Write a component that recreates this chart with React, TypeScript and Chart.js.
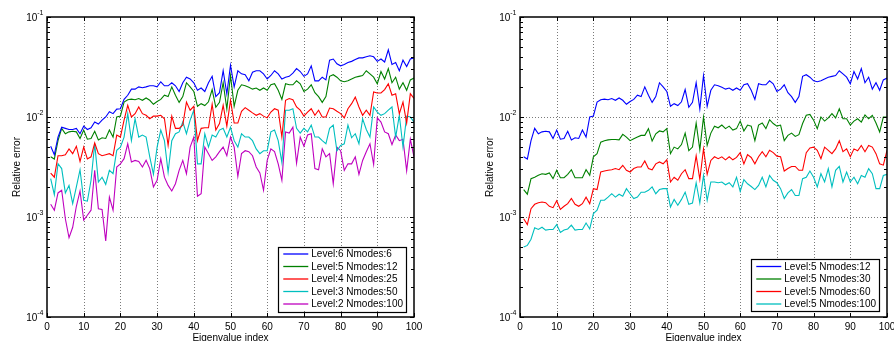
import React, { useEffect, useRef } from "react";
import { Chart, registerables } from "chart.js";

Chart.register(...registerables);

// ---------- data ----------
const X_MIN = 0;
const X_MAX = 100;
const X_TICKS = [0, 10, 20, 30, 40, 50, 60, 70, 80, 90, 100];
const Y_MIN = 1e-4;
const Y_MAX = 1e-1;
const Y_TICKS = [1e-4, 1e-3, 1e-2, 1e-1];
const Y_TICK_EXPONENTS = ["-4", "-3", "-2", "-1"];
const X_TITLE = "Eigenvalue index";
const Y_TITLE = "Relative error";

const LEFT_LABELS = [
  "Level:6 Nmodes:6",
  "Level:5 Nmodes:12",
  "Level:4 Nmodes:25",
  "Level:3 Nmodes:50",
  "Level:2 Nmodes:100",
];
const RIGHT_LABELS = [
  "Level:5 Nmodes:12",
  "Level:5 Nmodes:30",
  "Level:5 Nmodes:60",
  "Level:5 Nmodes:100",
];

const level6n6 = [
  5.1e-3, 4.2e-3, 6.3e-3, 7.9e-3, 7.7e-3, 7.5e-3, 7.5e-3, 7.7e-3, 6.8e-3, 8.1e-3,
  7.5e-3, 7.8e-3, 8.9e-3, 8.5e-3, 9.3e-3, 1.0e-2, 1.13e-2, 1.08e-2, 1.2e-2, 1.21e-2,
  1.5e-2, 1.65e-2, 1.9e-2, 1.9e-2, 2.0e-2, 1.96e-2, 2.0e-2, 2.05e-2, 2.05e-2, 2.0e-2,
  2.25e-2, 2.05e-2, 2.05e-2, 2.2e-2, 2.05e-2, 1.8e-2, 2.2e-2, 2.5e-2, 2.4e-2, 2.2e-2,
  1.85e-2, 1.95e-2, 1.8e-2, 2.2e-2, 2.55e-2, 1.6e-2, 1.75e-2, 2.9e-2, 1.7e-2, 3.3e-2,
  2.0e-2, 2.9e-2, 2.7e-2, 2.65e-2, 2.3e-2, 2.8e-2, 2.9e-2, 2.9e-2, 2.7e-2, 2.4e-2,
  2.6e-2, 2.9e-2, 2.7e-2, 2.4e-2, 2.5e-2, 2.55e-2, 2.75e-2, 3.05e-2, 2.85e-2, 2.55e-2,
  2.7e-2, 3.25e-2, 2.3e-2, 2.3e-2, 2.5e-2, 2.35e-2, 3.7e-2, 3.8e-2, 3.4e-2, 3.25e-2,
  3.35e-2, 3.5e-2, 3.6e-2, 3.75e-2, 3.9e-2, 3.9e-2, 4.0e-2, 4.1e-2, 4.0e-2, 3.6e-2,
  3.8e-2, 3.55e-2, 4.7e-2, 3.35e-2, 3.5e-2, 2.9e-2, 3.7e-2, 3.2e-2, 3.8e-2, 3.9e-2,
];

const level5n12 = [
  4.0e-3, 3.8e-3, 5.8e-3, 7.7e-3, 6.8e-3, 7.1e-3, 7.2e-3, 7.1e-3, 6.1e-3, 7.4e-3,
  6.0e-3, 6.1e-3, 7.2e-3, 5.9e-3, 6.2e-3, 6.1e-3, 7.4e-3, 6.3e-3, 1.0e-2, 1.02e-2,
  1.41e-2, 1.49e-2, 1.51e-2, 1.49e-2, 1.53e-2, 1.47e-2, 1.55e-2, 1.47e-2, 1.34e-2, 1.43e-2,
  1.5e-2, 1.65e-2, 1.6e-2, 2.0e-2, 1.65e-2, 1.4e-2, 1.6e-2, 2.2e-2, 2.0e-2, 1.8e-2,
  1.28e-2, 1.36e-2, 1.3e-2, 1.42e-2, 1.88e-2, 1.25e-2, 1.4e-2, 2.2e-2, 1.2e-2, 2.6e-2,
  1.28e-2, 1.85e-2, 2.1e-2, 2.05e-2, 1.98e-2, 1.9e-2, 1.95e-2, 1.85e-2, 1.95e-2, 1.85e-2,
  2.1e-2, 2.15e-2, 1.85e-2, 1.5e-2, 2.15e-2, 2.1e-2, 2.1e-2, 2.3e-2, 2.15e-2, 1.8e-2,
  1.9e-2, 2.1e-2, 1.75e-2, 1.6e-2, 1.4e-2, 1.6e-2, 2.55e-2, 2.65e-2, 2.5e-2, 2.3e-2,
  2.25e-2, 2.3e-2, 2.4e-2, 2.5e-2, 2.55e-2, 2.6e-2, 2.9e-2, 2.7e-2, 2.5e-2, 2.15e-2,
  2.85e-2, 2.4e-2, 3.05e-2, 2.2e-2, 2.5e-2, 1.9e-2, 2.2e-2, 1.85e-2, 2.35e-2, 2.45e-2,
];

const level4n25 = [
  2.75e-3, 2.5e-3, 4.1e-3, 4.1e-3, 4.2e-3, 4.8e-3, 4.3e-3, 5.1e-3, 3.6e-3, 5.0e-3,
  3.8e-3, 4.0e-3, 5.5e-3, 4.3e-3, 4.1e-3, 4.2e-3, 4.3e-3, 4.1e-3, 6.6e-3, 6.3e-3,
  9.3e-3, 1.31e-2, 1.0e-2, 1.08e-2, 1.26e-2, 1.08e-2, 1.04e-2, 9.6e-3, 1.02e-2, 1.02e-2,
  1.04e-2, 9.6e-3, 5.2e-3, 1.02e-2, 7.7e-3, 7.7e-3, 8.3e-3, 1.41e-2, 1.17e-2, 1.28e-2,
  5.8e-3, 7.7e-3, 7.8e-3, 7.8e-3, 1.34e-2, 7.4e-3, 8.6e-3, 1.31e-2, 8.1e-3, 1.47e-2,
  8.7e-3, 8.7e-3, 1.14e-2, 1.24e-2, 1.17e-2, 1.1e-2, 1.04e-2, 1.08e-2, 1.02e-2, 9.8e-3,
  1.12e-2, 1.21e-2, 1.17e-2, 6.3e-3, 1.47e-2, 1.53e-2, 1.49e-2, 1.26e-2, 1.17e-2, 1.02e-2,
  1.12e-2, 1.21e-2, 1.04e-2, 1.17e-2, 1.0e-2, 1.0e-2, 1.23e-2, 1.21e-2, 1.14e-2, 1.08e-2,
  9.8e-3, 1.21e-2, 1.36e-2, 1.58e-2, 1.26e-2, 1.04e-2, 1.17e-2, 1.04e-2, 1.78e-2, 1.74e-2,
  1.74e-2, 1.88e-2, 2.15e-2, 1.65e-2, 1.71e-2, 1.08e-2, 1.41e-2, 8.7e-3, 1.71e-2, 1.53e-2,
];

const level3n50 = [
  2.42e-3, 1.67e-3, 3.42e-3, 3.05e-3, 1.74e-3, 2.07e-3, 1.36e-3, 2.0e-3, 2.97e-3, 1.47e-3,
  1.44e-3, 2.33e-3, 5.4e-3, 2.24e-3, 2.5e-3, 2.12e-3, 2.93e-3, 2.71e-3, 4.64e-3, 5.0e-3,
  6.3e-3, 1.08e-2, 5.8e-3, 9.6e-3, 6.3e-3, 6.6e-3, 6.3e-3, 4.0e-3, 2.67e-3, 5.0e-3,
  7.4e-3, 5.8e-3, 2.8e-3, 5.8e-3, 6.8e-3, 7.1e-3, 8.9e-3, 6.8e-3, 9.3e-3, 1.17e-2,
  3.4e-3, 3.4e-3, 6.8e-3, 5.0e-3, 6.6e-3, 6.3e-3, 7.4e-3, 7.7e-3, 6.3e-3, 7.9e-3,
  5.8e-3, 5.0e-3, 6.8e-3, 6.3e-3, 6.3e-3, 5.8e-3, 4.8e-3, 4.3e-3, 4.6e-3, 4.6e-3,
  7.1e-3, 7.4e-3, 5.8e-3, 3.5e-3, 1.17e-2, 1.17e-2, 1.21e-2, 7.7e-3, 6.9e-3, 7.7e-3,
  7.1e-3, 8.3e-3, 6.3e-3, 6.3e-3, 5.8e-3, 5.4e-3, 7.7e-3, 8.3e-3, 4.6e-3, 5.2e-3,
  5.4e-3, 8.3e-3, 6.2e-3, 6.8e-3, 5.4e-3, 9.6e-3, 7.5e-3, 6.3e-3, 1.26e-2, 1.12e-2,
  1.04e-2, 1.08e-2, 1.17e-2, 1.26e-2, 6.3e-3, 1.04e-2, 5.0e-3, 1.02e-2, 1.0e-2, 8.9e-3,
];

const level2n100 = [
  1.34e-3, 1.17e-3, 1.74e-3, 1.85e-3, 9.6e-4, 6.2e-4, 7.9e-4, 1.28e-3, 1.82e-3, 9.3e-4,
  1.04e-3, 1.17e-3, 2.93e-3, 1.21e-3, 1.19e-3, 5.75e-4, 1.58e-3, 1.17e-3, 3.16e-3, 3.4e-3,
  3.83e-3, 5.4e-3, 3.55e-3, 3.68e-3, 3.6e-3, 3.16e-3, 3.7e-3, 3.05e-3, 2.0e-3, 2.33e-3,
  3.83e-3, 2.5e-3, 2.07e-3, 1.82e-3, 2.15e-3, 2.93e-3, 3.68e-3, 2.71e-3, 5.0e-3, 6.3e-3,
  1.61e-3, 1.71e-3, 5.0e-3, 4.3e-3, 3.68e-3, 4.0e-3, 4.5e-3, 5.0e-3, 4.1e-3, 6.3e-3,
  5.0e-3, 2.55e-3, 4.3e-3, 4.6e-3, 4.5e-3, 4.1e-3, 3.16e-3, 2.76e-3, 1.85e-3, 3.68e-3,
  4.8e-3, 4.5e-3, 3.4e-3, 2.33e-3, 7.1e-3, 6.9e-3, 7.9e-3, 3.45e-3, 6.3e-3, 5.1e-3,
  6.6e-3, 6.8e-3, 3.05e-3, 2.97e-3, 4.8e-3, 4.0e-3, 4.3e-3, 2.15e-3, 5.0e-3, 4.6e-3,
  2.93e-3, 3.4e-3, 3.4e-3, 4.0e-3, 2.67e-3, 3.68e-3, 4.5e-3, 5.4e-3, 3.35e-3, 9.8e-3,
  8.9e-3, 7.1e-3, 6.8e-3, 5.3e-3, 6.6e-3, 5.8e-3, 6.0e-3, 2.9e-3, 6.0e-3, 4.0e-3,
];

const level5n30 = [
  1.88e-3, 1.69e-3, 2.42e-3, 2.5e-3, 2.61e-3, 2.71e-3, 2.67e-3, 2.76e-3, 2.42e-3, 2.93e-3,
  2.47e-3, 2.47e-3, 2.67e-3, 2.97e-3, 2.47e-3, 2.47e-3, 2.47e-3, 2.97e-3, 2.61e-3, 4.0e-3,
  4.3e-3, 5.6e-3, 5.8e-3, 5.9e-3, 5.95e-3, 5.95e-3, 5.9e-3, 6.7e-3, 6.3e-3, 5.8e-3,
  6.05e-3, 6.3e-3, 6.55e-3, 6.55e-3, 7.65e-3, 5.75e-3, 6.8e-3, 7.25e-3, 7.1e-3, 7.65e-3,
  4.3e-3, 5.0e-3, 4.8e-3, 5.3e-3, 6.9e-3, 4.6e-3, 5.0e-3, 8.7e-3, 4.7e-3, 1.0e-2,
  5.2e-3, 6.9e-3, 8.1e-3, 7.8e-3, 8.3e-3, 7.65e-3, 8.1e-3, 7.4e-3, 7.65e-3, 9.1e-3,
  7.25e-3, 8.3e-3, 8.1e-3, 5.8e-3, 8.3e-3, 8.7e-3, 7.65e-3, 9.4e-3, 8.6e-3, 8.1e-3,
  8.3e-3, 5.8e-3, 6.55e-3, 6.9e-3, 6.4e-3, 6.65e-3, 8.6e-3, 1.04e-2, 1.06e-2, 9.3e-3,
  7.65e-3, 1.0e-2, 9.1e-3, 9.8e-3, 1.08e-2, 9.8e-3, 1.21e-2, 9.6e-3, 9.6e-3, 8.3e-3,
  9.1e-3, 9.6e-3, 8.9e-3, 1.05e-2, 9.6e-3, 1.04e-2, 8.7e-3, 7.1e-3, 1.0e-2, 1.0e-2,
];

const level5n60 = [
  9.6e-4, 8.4e-4, 1.21e-3, 1.34e-3, 1.39e-3, 1.41e-3, 1.39e-3, 1.28e-3, 1.24e-3, 1.45e-3,
  1.19e-3, 1.28e-3, 1.36e-3, 1.53e-3, 1.34e-3, 1.28e-3, 1.36e-3, 1.58e-3, 1.36e-3, 1.92e-3,
  1.88e-3, 2.82e-3, 2.88e-3, 2.93e-3, 2.97e-3, 3.05e-3, 2.97e-3, 3.29e-3, 2.93e-3, 2.82e-3,
  3.05e-3, 3.16e-3, 3.16e-3, 3.63e-3, 3.05e-3, 2.97e-3, 3.4e-3, 3.55e-3, 3.4e-3, 3.73e-3,
  2.24e-3, 2.5e-3, 2.33e-3, 2.71e-3, 2.97e-3, 2.42e-3, 2.42e-3, 4.1e-3, 2.37e-3, 4.8e-3,
  2.67e-3, 3.68e-3, 4.0e-3, 3.83e-3, 4.0e-3, 3.73e-3, 4.0e-3, 3.73e-3, 3.94e-3, 4.4e-3,
  3.4e-3, 4.2e-3, 3.94e-3, 3.4e-3, 4.0e-3, 4.5e-3, 4.0e-3, 4.64e-3, 4.4e-3, 4.06e-3,
  4.0e-3, 2.88e-3, 3.05e-3, 3.2e-3, 3.2e-3, 2.93e-3, 2.93e-3, 4.4e-3, 4.9e-3, 5.0e-3,
  4.64e-3, 3.83e-3, 5.0e-3, 4.64e-3, 4.3e-3, 4.8e-3, 5.8e-3, 4.5e-3, 4.8e-3, 4.0e-3,
  4.8e-3, 4.6e-3, 5.2e-3, 4.5e-3, 5.2e-3, 5.0e-3, 4.3e-3, 3.4e-3, 3.3e-3, 4.64e-3,
];

const level5n100 = [
  5.0e-4, 5.2e-4, 6.0e-4, 7.8e-4, 7.5e-4, 7.9e-4, 7.4e-4, 7.5e-4, 7.5e-4, 8.4e-4,
  7.0e-4, 7.4e-4, 7.6e-4, 8.3e-4, 7.4e-4, 7.5e-4, 7.5e-4, 8.7e-4, 7.6e-4, 1.08e-3,
  1.17e-3, 1.47e-3, 1.47e-3, 1.58e-3, 1.71e-3, 1.58e-3, 1.69e-3, 1.61e-3, 1.92e-3, 1.71e-3,
  1.53e-3, 1.58e-3, 1.77e-3, 1.77e-3, 1.85e-3, 2.0e-3, 1.71e-3, 1.88e-3, 1.92e-3, 1.92e-3,
  1.26e-3, 1.5e-3, 1.31e-3, 1.5e-3, 1.77e-3, 1.34e-3, 1.38e-3, 2.2e-3, 1.38e-3, 2.6e-3,
  1.47e-3, 2.24e-3, 2.24e-3, 2.2e-3, 2.24e-3, 2.1e-3, 2.2e-3, 2.0e-3, 2.5e-3, 1.8e-3,
  2.37e-3, 2.15e-3, 2.02e-3, 1.88e-3, 2.07e-3, 2.5e-3, 2.0e-3, 2.6e-3, 2.33e-3, 2.2e-3,
  1.92e-3, 1.53e-3, 1.74e-3, 1.88e-3, 1.64e-3, 1.64e-3, 2.42e-3, 2.5e-3, 2.88e-3, 2.5e-3,
  2.0e-3, 2.71e-3, 2.24e-3, 3.05e-3, 2.0e-3, 2.93e-3, 3.2e-3, 2.24e-3, 2.82e-3, 2.24e-3,
  2.5e-3, 2.15e-3, 2.6e-3, 2.5e-3, 3.05e-3, 2.71e-3, 1.92e-3, 1.92e-3, 2.6e-3, 2.67e-3,
];

const LEFT_SERIES = [level6n6, level5n12, level4n25, level3n50, level2n100];
const RIGHT_SERIES = [level5n12, level5n30, level5n60, level5n100];

// ---------- styles ----------
const LEFT_COLORS = ["#0000ff", "#008000", "#ff0000", "#00bfbf", "#bf00bf"];
const RIGHT_COLORS = ["#0000ff", "#008000", "#ff0000", "#00bfbf"];
const FONT = '"Liberation Sans", Arial, Helvetica, sans-serif';

function matlabPlugin(labels: string[], colors: string[]) {
  return {
    id: "matlabAxes",
    beforeDatasetsDraw(chart: any) {
      const { ctx, chartArea: a, scales } = chart;
      const xs = scales.x;
      const ys = scales.y;
      ctx.save();
      ctx.strokeStyle = "#7a7a7a";
      ctx.lineWidth = 1;
      ctx.setLineDash([1, 2]);
      for (const t of X_TICKS) {
        if (t <= X_MIN || t >= X_MAX) continue;
        const px = Math.round(xs.getPixelForValue(t)) + 0.5;
        ctx.beginPath();
        ctx.moveTo(px, a.top);
        ctx.lineTo(px, a.bottom);
        ctx.stroke();
      }
      for (const t of Y_TICKS) {
        if (t <= Y_MIN || t >= Y_MAX) continue;
        const py = Math.round(ys.getPixelForValue(t)) + 0.5;
        ctx.beginPath();
        ctx.moveTo(a.left, py);
        ctx.lineTo(a.right, py);
        ctx.stroke();
      }
      ctx.restore();
    },
    afterDatasetsDraw(chart: any) {
      const { ctx, chartArea: a, scales } = chart;
      const xs = scales.x;
      const ys = scales.y;
      ctx.save();
      ctx.setLineDash([]);
      ctx.strokeStyle = "#000";
      ctx.lineWidth = 1;
      // ticks
      const TL = 4;
      ctx.beginPath();
      for (const t of X_TICKS) {
        const px = Math.round(xs.getPixelForValue(t)) + 0.5;
        ctx.moveTo(px, a.bottom);
        ctx.lineTo(px, a.bottom - TL);
        ctx.moveTo(px, a.top);
        ctx.lineTo(px, a.top + TL);
      }
      for (let k = -4; k <= -1; k++) {
        for (let m = 1; m <= 9; m++) {
          const v = m * Math.pow(10, k);
          if (v < Y_MIN * 0.999 || v > Y_MAX * 1.001) continue;
          const py = Math.round(ys.getPixelForValue(v)) + 0.5;
          const len = m === 1 ? TL : 3;
          ctx.moveTo(a.left, py);
          ctx.lineTo(a.left + len, py);
          ctx.moveTo(a.right, py);
          ctx.lineTo(a.right - len, py);
        }
      }
      ctx.stroke();
      // box
      ctx.lineWidth = 1.5;
      ctx.strokeRect(a.left, a.top, a.right - a.left, a.bottom - a.top);

      // tick labels
      ctx.fillStyle = "#000";
      ctx.font = `10px ${FONT}`;
      ctx.textAlign = "center";
      ctx.textBaseline = "alphabetic";
      for (const t of X_TICKS) {
        ctx.fillText(String(t), xs.getPixelForValue(t), a.bottom + 13);
      }
      Y_TICKS.forEach((t, i) => {
        const py = ys.getPixelForValue(t);
        const exp = Y_TICK_EXPONENTS[i];
        ctx.font = `7px ${FONT}`;
        const we = ctx.measureText(exp).width;
        const right = a.left - 3.5;
        ctx.textAlign = "left";
        ctx.fillText(exp, right - we, py - 2);
        ctx.font = `10px ${FONT}`;
        ctx.textAlign = "right";
        ctx.fillText("10", right - we, py + 4);
      });

      // axis titles
      ctx.font = `10px ${FONT}`;
      ctx.textAlign = "center";
      ctx.fillText(X_TITLE, (a.left + a.right) / 2, a.bottom + 23.5);
      ctx.save();
      ctx.translate(a.left - 30, (a.top + a.bottom) / 2);
      ctx.rotate(-Math.PI / 2);
      ctx.textBaseline = "middle";
      ctx.fillText(Y_TITLE, 0, 0);
      ctx.restore();

      // legend
      ctx.font = `10px ${FONT}`;
      let maxW = 0;
      for (const l of labels) maxW = Math.max(maxW, ctx.measureText(l).width);
      const rowH = 12.5;
      const lw = 5 + 25 + 3 + maxW + 3;
      const lh = labels.length * rowH + 2;
      const lx = a.right - 8 - lw;
      const ly = a.bottom - 6 - lh;
      ctx.fillStyle = "#fff";
      ctx.fillRect(lx, ly, lw, lh);
      ctx.strokeStyle = "#000";
      ctx.lineWidth = 1.2;
      ctx.strokeRect(Math.round(lx) + 0.5, Math.round(ly) + 0.5, Math.round(lw), Math.round(lh));
      labels.forEach((l, i) => {
        const cy = ly + 7.5 + i * rowH;
        ctx.strokeStyle = colors[i];
        ctx.lineWidth = 1.3;
        ctx.beginPath();
        ctx.moveTo(lx + 5, cy);
        ctx.lineTo(lx + 30, cy);
        ctx.stroke();
        ctx.fillStyle = "#000";
        ctx.textAlign = "left";
        ctx.textBaseline = "middle";
        ctx.fillText(l, lx + 33, cy + 0.5);
      });
      ctx.restore();
    },
  };
}

function makeConfig(series: number[][], labels: string[], colors: string[], pad: any) {
  return {
    type: "line" as const,
    data: {
      datasets: series.map((vals, i) => ({
        label: labels[i],
        data: vals.map((v, j) => ({ x: j + 1, y: v })),
        borderColor: colors[i],
        backgroundColor: colors[i],
        borderWidth: 1.1,
        pointRadius: 0,
        fill: false,
        tension: 0,
      })),
    },
    options: {
      animation: false as const,
      responsive: false,
      devicePixelRatio: 1,
      events: [],
      layout: { padding: pad },
      plugins: { legend: { display: false }, tooltip: { enabled: false } },
      scales: {
        x: { type: "linear" as const, min: X_MIN, max: X_MAX, display: false },
        y: { type: "logarithmic" as const, min: Y_MIN, max: Y_MAX, display: false },
      },
    },
    plugins: [matlabPlugin(labels, colors)],
  };
}

function Panel(props: { series: number[][]; labels: string[]; colors: string[]; pad: any; left: number }) {
  const ref = useRef<HTMLCanvasElement>(null);
  useEffect(() => {
    if (!ref.current) return;
    const chart = new Chart(ref.current, makeConfig(props.series, props.labels, props.colors, props.pad) as any);
    return () => chart.destroy();
  }, []);
  return (
    <canvas
      ref={ref}
      width={447}
      height={341}
      style={{ position: "absolute", left: props.left, top: 0, width: 447, height: 341 }}
    />
  );
}

export default function App() {
  return (
    <div style={{ position: "absolute", left: 0, top: 0, width: 894, height: 341, background: "#fff", overflow: "hidden" }}>
      <Panel series={LEFT_SERIES} labels={LEFT_LABELS} colors={LEFT_COLORS} pad={{ left: 47, right: 33, top: 17, bottom: 24 }} left={0} />
      <Panel series={RIGHT_SERIES} labels={RIGHT_LABELS} colors={RIGHT_COLORS} pad={{ left: 73, right: 7, top: 17, bottom: 24 }} left={447} />
    </div>
  );
}
